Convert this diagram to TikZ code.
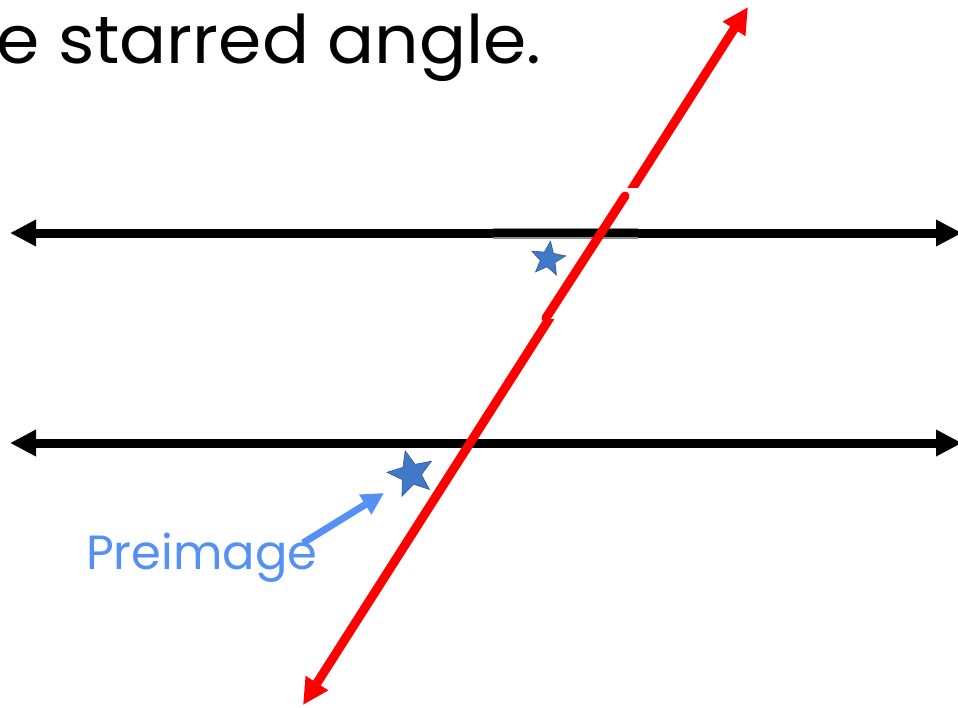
\documentclass[tikz,border=0pt]{standalone}
\usepackage{fontspec}
\newfontfamily\gothic{Poppins}
\usetikzlibrary{arrows.meta, shapes.geometric}
\definecolor{preblue}{RGB}{85,145,245}
\definecolor{starblue}{RGB}{66,120,200}
\definecolor{stardark}{RGB}{45,85,150}
\tikzstyle{parallel} = [line width=9pt, draw=black, 
{Triangle[length=26pt, width=25pt]}-{Triangle[length=26pt, width=25pt]}]
\tikzstyle{transversal} = [line width=9pt, draw=red, 
{Triangle[length=26pt, width=25pt]}-{Triangle[length=26pt, width=25pt]}]
\tikzstyle{starmark} = [star, star points=5, star point ratio=2.3, 
fill=starblue, draw=stardark, line width=0.6pt, inner sep=0pt]
\tikzstyle{pointer} = [line width=7pt, draw=preblue, 
-{Triangle[length=22pt, width=22pt]}]

\begin{document}
\begin{tikzpicture}[x=1pt, y=-1pt]
\useasboundingbox (0,0) rectangle (958,707);

\node (title) [anchor=base west, inner sep=0pt, xscale=1.04, font=\gothic\fontsize{67}{72}\selectfont] at (-4,63) {e starred angle.};

% the two parallel lines and the transversal
\coordinate (topL) at (10,233);
\coordinate (topR) at (962,233);
\coordinate (botL) at (10,443);
\coordinate (botR) at (962,443);
\coordinate (redS) at (303,705);
\coordinate (redN) at (748,7);
\draw [parallel] (topL) -- (topR);
\draw [parallel] (botL) -- (botR);
\draw [transversal] (redS) -- (redN);

% pasted copy of the angle at the upper crossing
\coordinate (patchA) at (493,188);
\coordinate (patchB) at (638,319);
\fill [white] (patchA) rectangle (patchB);
\coordinate (segL) at (493,233);
\coordinate (segR) at (638,233);
\draw [line width=11pt, draw=black!45] (segL) -- (segR);
\draw [line width=8pt, draw=black] (segL) -- (segR);
\draw [line width=9pt, draw=black] (segR) -- ++(6,0);
\coordinate (redA) at (546,318);
\coordinate (redB) at (625,196);
\draw [line width=9pt, draw=red, line cap=round] (redA) -- (redB);

\node (image) [starmark, minimum size=36pt, rotate=-8] at (548,259) {};
\node (preimage) [starmark, minimum size=48pt, rotate=14] at (411,474) {};

\node (pre) [anchor=base west, inner sep=0pt, text=preblue, font=\gothic\fontsize{48}{52}\selectfont] at (86,569) {Preimage};
\coordinate (tail) at (303,543);
\coordinate (tip) at (384,493);
\draw [pointer] (tail) -- (tip);

\end{tikzpicture}
\end{document}
